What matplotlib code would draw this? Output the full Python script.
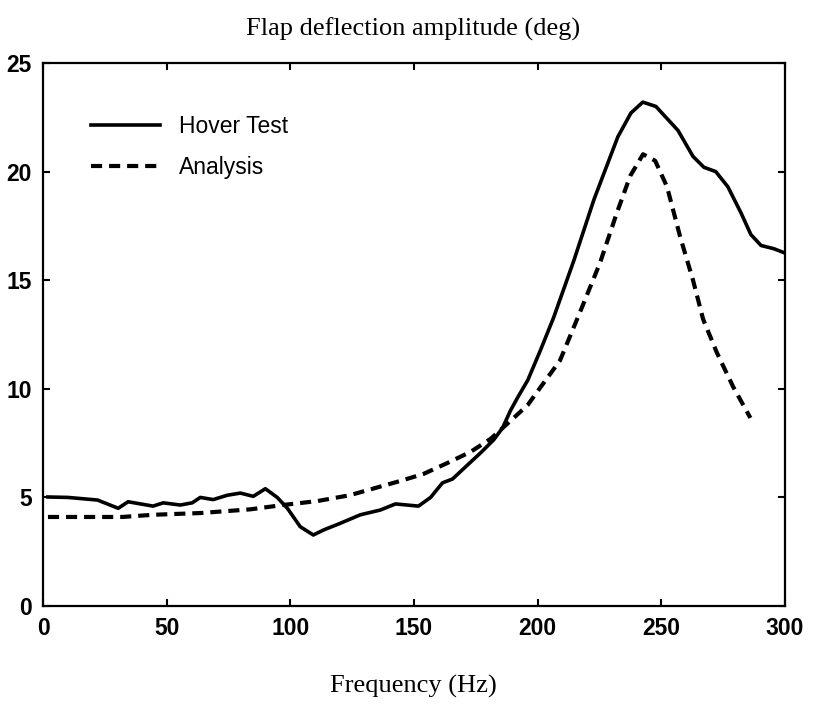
import numpy as np
import matplotlib
matplotlib.use("Agg")
import matplotlib.pyplot as plt

# hover test measurement
hover_freq = [2, 10, 22, 26, 30.4, 34.4, 44.5, 48.6, 55.5, 60.3, 63.6, 68.8, 74.5,
              79.8, 85, 89.9, 94.7, 98.8, 104, 109.3, 113.4, 120, 128.3, 136.4,
              142.5, 151.8, 156.7, 161.5, 165.6, 171.7, 176.9, 182.2, 185.8, 189,
              191.9, 196, 201.2, 206.5, 214.6, 222.7, 232.4, 237.7, 242.5, 247.8,
              256.7, 262.8, 267.2, 272, 276.9, 282.2, 286.2, 290.3, 295.5, 300]
hover_amp = [5.02, 5.0, 4.88, 4.7, 4.5, 4.8, 4.6, 4.75, 4.65, 4.75, 5.0, 4.9, 5.1,
             5.2, 5.05, 5.4, 5.0, 4.5, 3.65, 3.27, 3.5, 3.8, 4.2, 4.42,
             4.7, 4.6, 5.0, 5.67, 5.85, 6.5, 7.05, 7.65, 8.2, 9.0,
             9.6, 10.4, 11.8, 13.3, 15.9, 18.7, 21.6, 22.7, 23.2, 23.0,
             21.9, 20.7, 20.2, 20.0, 19.3, 18.1, 17.1, 16.6, 16.45, 16.25]

# analysis prediction
anal_freq = [2, 32, 44.5, 63.5, 83.7, 97, 110.8, 124, 136.4, 144.5, 153.8, 163.6,
             172.9, 181, 190.3, 196, 201, 209, 217, 225.2, 232, 237.4, 242.6,
             247.5, 252.3, 257.6, 262.8, 266.9, 272.5, 279, 286]
anal_amp = [4.1, 4.1, 4.2, 4.28, 4.45, 4.65, 4.83, 5.1, 5.5, 5.76, 6.08, 6.59,
            7.1, 7.7, 8.66, 9.26, 10.05, 11.3, 13.5, 15.8, 18.1, 19.8, 20.8,
            20.5, 19.3, 17.0, 15.0, 13.2, 11.65, 10.1, 8.66]

plt.rcParams['lines.scale_dashes'] = False
serif = ['Liberation Serif', 'DejaVu Serif']
sans = ['Liberation Sans', 'DejaVu Sans']

fig = plt.figure(figsize=(8.13, 7.05), dpi=100)
ax = fig.add_axes([0.0529, 0.1404, 0.9127, 0.7702])

ax.plot(hover_freq, hover_amp, color='black', lw=2.6, label='Hover Test')
ax.plot(anal_freq, anal_amp, color='black', lw=3.0, dashes=(8, 5), label='Analysis')

ax.set_xlim(0, 300)
ax.set_ylim(0, 25)
ax.set_xticks(np.arange(0, 301, 50))
ax.set_yticks(np.arange(0, 26, 5))
for s in ax.spines.values():
    s.set_linewidth(1.6)
ax.tick_params(direction='in', length=5, width=1.5, top=True, right=True,
               labelsize=16.5, pad=8)
for lab in ax.get_xticklabels() + ax.get_yticklabels():
    lab.set_fontfamily(sans)
    lab.set_fontweight('bold')

fig.text(0.508, 0.958, 'Flap deflection amplitude (deg)', ha='center', va='center',
         fontsize=19, family=serif)
fig.text(0.508, 0.026, 'Frequency (Hz)', ha='center', va='center',
         fontsize=19, family=serif)

ax.legend(loc='upper left', bbox_to_anchor=(0.037, 0.942), frameon=False,
          handlelength=3.0, handletextpad=0.85, labelspacing=0.77,
          prop={'family': sans, 'size': 16.5})

fig.savefig('out.png', dpi=100)
